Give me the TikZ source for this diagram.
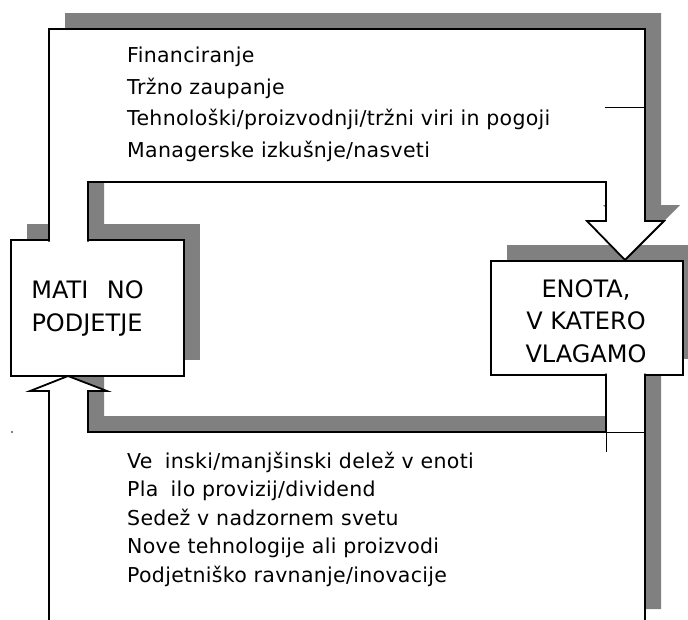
\documentclass[tikz,border=0pt]{standalone}
\usepackage{fontspec}
\setmainfont{DejaVu Sans}
\newfontfamily\listfont[LetterSpace=1.5]{DejaVu Sans}
\usetikzlibrary{shadows}
\definecolor{shade}{RGB}{128,128,128}

\begin{document}
\begin{tikzpicture}[x=1pt,y=-1pt,
  outline/.style={line width=1.8pt, line join=miter, line cap=butt},
  strayline/.style={line width=0.9pt},
  shadowfill/.style={fill=shade, draw=none},
  block/.style={draw, fill=white, line width=1.8pt, inner sep=0pt,
    drop shadow={shadow xshift=16pt, shadow yshift=16pt, fill=shade, opacity=1}},
  listtext/.style={anchor=base west, inner sep=0pt, font=\listfont\fontsize{20.5}{31}\selectfont},
  boxtext/.style={anchor=base, inner sep=0pt, font=\fontsize{24}{33}\selectfont}]

\clip (0,0) rectangle (688,619);
\fill[white] (0,0) rectangle (688,619);

% shadows of the two block arrows
\begin{scope}[shift={(16,-16)}]
  \fill[shadowfill] (49,241.5) -- (49,29) -- (645,29) -- (645,221) -- (664,221)
    -- (625,260) -- (587,221) -- (606,221) -- (606,182) -- (88,182) -- (88,241.5) -- cycle;
  \fill[shadowfill] (606,373.5) -- (606,432) -- (88,432) -- (88,391) -- (107,391)
    -- (68,376) -- (30,391) -- (49,391) -- (49,625) -- (645,625) -- (645,373.5) -- cycle;
\end{scope}

% the two boxes
\node[block, minimum width=173pt, minimum height=136pt] (parent) at (97.5,308) {};
\node[block, minimum width=192pt, minimum height=114pt] (unit) at (587,318) {};

% block arrow from the parent company to the unit (open at the box)
\filldraw[outline, fill=white] (49,241.5) -- (49,29) -- (645,29) -- (645,221) -- (664,221)
  -- (625,260) -- (587,221) -- (606,221) -- (606,182) -- (88,182) -- (88,241.5);

% block arrow from the unit back to the parent company
\filldraw[outline, fill=white] (606,373.5) -- (606,432) -- (88,432) -- (88,391) -- (107,391)
  -- (68,376) -- (30,391) -- (49,391) -- (49,625) -- (645,625) -- (645,373.5);

% short leftover strokes
\draw[strayline] (605,107) -- (645,107);
\draw[strayline] (606,432) -- (645,432);
\draw[strayline] (606,432) -- (606,452);
\fill (12,432) circle (0.8pt);

% box labels
\node[boxtext] (parentA) at (87.5,298.3) {MATI\hspace{18.5pt}NO};
\node[boxtext] (parentB) at (87,331) {PODJETJE};
\node[boxtext] (unitA) at (586,297) {ENOTA,};
\node[boxtext] (unitB) at (586,329.5) {V KATERO};
\node[boxtext] (unitC) at (586,362) {VLAGAMO};

% what the parent company gives
\node[listtext] (give1) at (127,62.5) {Financiranje};
\node[listtext] (give2) at (127,94) {Tržno zaupanje};
\node[listtext] (give3) at (127,125.5) {Tehnološki/proizvodnji/tržni viri in pogoji};
\node[listtext] (give4) at (127,157) {Managerske izkušnje/nasveti};

% what the parent company receives
\node[listtext] (get1) at (127,468) {Ve\hspace{0.6em}inski/manjšinski delež v enoti};
\node[listtext] (get2) at (127,496.5) {Pla\hspace{0.6em}ilo provizij/dividend};
\node[listtext] (get3) at (127,525) {Sedež v nadzornem svetu};
\node[listtext] (get4) at (127,553.5) {Nove tehnologije ali proizvodi};
\node[listtext] (get5) at (127,582) {Podjetniško ravnanje/inovacije};
\end{tikzpicture}
\end{document}
